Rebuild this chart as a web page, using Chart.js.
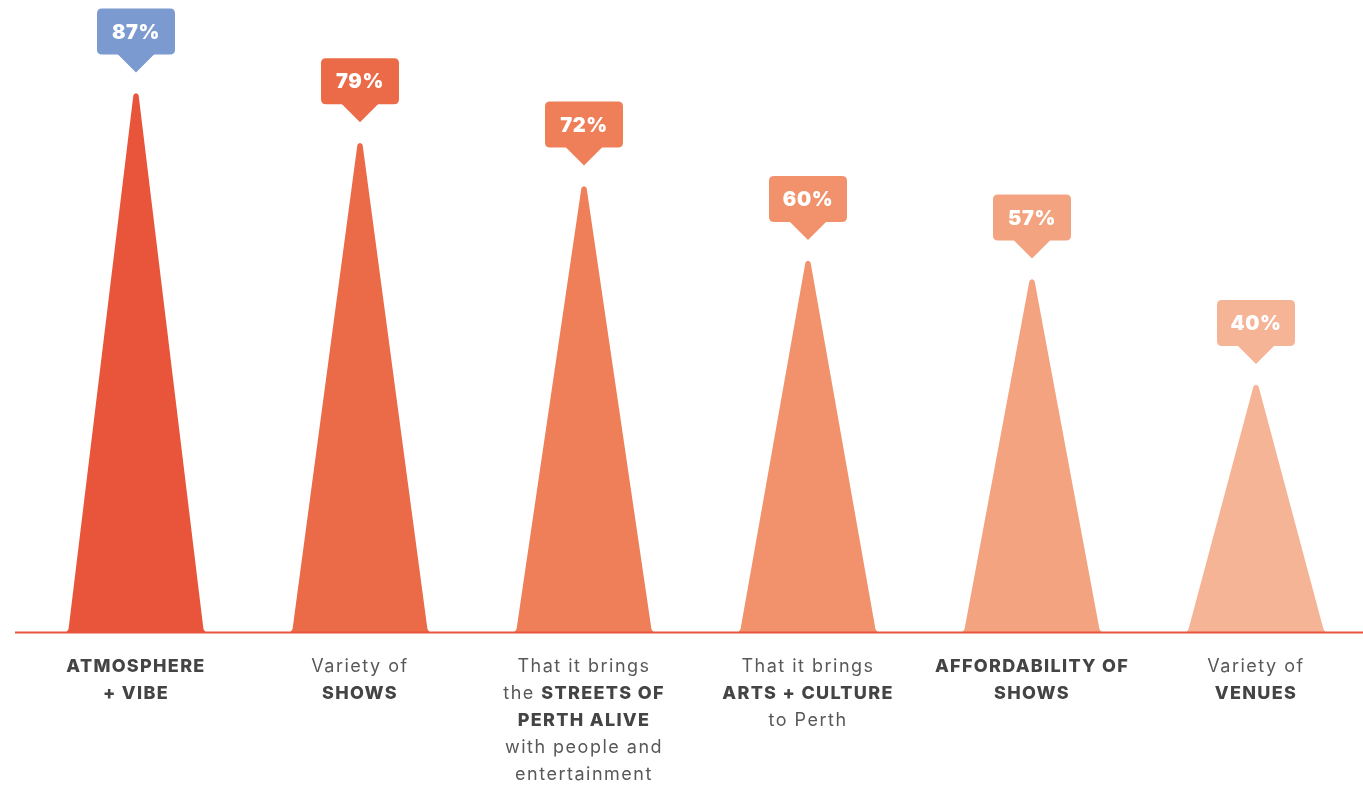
<!DOCTYPE html>
<html lang="en">
<head>
<meta charset="UTF-8" />
<title>What people loved most</title>
<script src="https://cdn.jsdelivr.net/npm/chart.js"></script>
<style>
  * { margin: 0; padding: 0; box-sizing: border-box; }
  html, body { width: 1363px; height: 787px; overflow: hidden; background: #fff; }
  .wrap { position: absolute; left: 0; top: 0; width: 1368px; height: 787px; }
</style>
</head>
<body>
<div class="wrap"><canvas id="spikes"></canvas></div>
<script>
const categories = ["Atmosphere + vibe", "Variety of shows", "Streets of Perth alive", "Arts + culture", "Affordability of shows", "Variety of venues"];
const values = [87, 79, 72, 60, 57, 40];
const spikeColors = ["#E8553A", "#EB6A47", "#EE7F59", "#F1926C", "#F3A37F", "#F6B496"];
const tagColors = ["#7B9AD0", "#EB6A47", "#EE7F59", "#F1926C", "#F3A37F", "#F6B496"];

// each label line is a list of [text, bold] pieces
const labelLines = [
  [[["ATMOSPHERE", true]], [["+ VIBE", true]]],
  [[["Variety of", false]], [["SHOWS", true]]],
  [[["That it brings", false]], [["the ", false], ["STREETS OF", true]], [["PERTH ALIVE", true]], [["with people and", false]], [["entertainment", false]]],
  [[["That it brings", false]], [["ARTS + CULTURE", true]], [["to Perth", false]]],
  [[["AFFORDABILITY OF", true]], [["SHOWS", true]]],
  [[["Variety of", false]], [["VENUES", true]]]
];

const BOLD = "800 18px Inter";
const REG = "400 18px Inter";

function setFont(ctx, bold) {
  ctx.font = bold ? BOLD : REG;
  ctx.fillStyle = bold ? "#444444" : "#585858";
  ctx.letterSpacing = bold ? "1.3px" : "1.5px";
}

function roundRect(ctx, x, y, w, h, r) {
  ctx.beginPath();
  ctx.moveTo(x + r, y);
  ctx.lineTo(x + w - r, y);
  ctx.quadraticCurveTo(x + w, y, x + w, y + r);
  ctx.lineTo(x + w, y + h - r);
  ctx.quadraticCurveTo(x + w, y + h, x + w - r, y + h);
  ctx.lineTo(x + r, y + h);
  ctx.quadraticCurveTo(x, y + h, x, y + h - r);
  ctx.lineTo(x, y + r);
  ctx.quadraticCurveTo(x, y, x + r, y);
  ctx.closePath();
}

const spikePlugin = {
  id: "spikes",
  afterDatasetsDraw(chart) {
    const ctx = chart.ctx;
    const meta = chart.getDatasetMeta(0);
    ctx.save();
    meta.data.forEach((bar, i) => {
      const { x, y, base, width } = bar.getProps(["x", "y", "base", "width"], true);
      const half = width / 2;

      // spike
      ctx.beginPath();
      ctx.moveTo(x - half, base);
      ctx.lineTo(x - half + 2, base - 3);
      ctx.lineTo(x - 2.6, y + 2.5);
      ctx.quadraticCurveTo(x, y - 1, x + 2.6, y + 2.5);
      ctx.lineTo(x + half - 2, base - 3);
      ctx.lineTo(x + half, base);
      ctx.closePath();
      ctx.fillStyle = spikeColors[i];
      ctx.fill();

      // value tag with pointer
      const tip = y - 20;
      const boxBottom = tip - 18;
      const boxH = 46, boxW = 78;
      ctx.fillStyle = tagColors[i];
      roundRect(ctx, x - boxW / 2, boxBottom - boxH, boxW, boxH, 5);
      ctx.fill();
      ctx.beginPath();
      ctx.moveTo(x - 19, boxBottom - 1);
      ctx.lineTo(x + 19, boxBottom - 1);
      ctx.lineTo(x, tip);
      ctx.closePath();
      ctx.fill();

      ctx.font = "900 20px Inter";
      ctx.letterSpacing = "0.6px";
      ctx.fillStyle = "#ffffff";
      ctx.textAlign = "left";
      ctx.textBaseline = "middle";
      const txt = values[i] + "%";
      const tw = ctx.measureText(txt).width;
      ctx.fillText(txt, x - tw / 2, boxBottom - boxH / 2 + 1);

      // category label
      labelLines[i].forEach((line, j) => {
        let total = 0;
        line.forEach(([t, b]) => { setFont(ctx, b); total += ctx.measureText(t).width; });
        let lx = x - total / 2;
        const ly = base + 35 + j * 26.8;
        line.forEach(([t, b]) => {
          setFont(ctx, b);
          ctx.fillText(t, lx, ly);
          lx += ctx.measureText(t).width;
        });
      });
    });

    // baseline
    const area = chart.chartArea;
    ctx.beginPath();
    ctx.moveTo(15, area.bottom + 0.5);
    ctx.lineTo(chart.width, area.bottom + 0.5);
    ctx.lineWidth = 2;
    ctx.strokeStyle = "#E8553A";
    ctx.stroke();
    ctx.restore();
  }
};

new Chart(document.getElementById("spikes"), {
  type: "bar",
  data: {
    labels: categories,
    datasets: [{
      data: values,
      backgroundColor: "rgba(0,0,0,0)",
      barPercentage: 0.62,
      categoryPercentage: 1
    }]
  },
  options: {
    responsive: true,
    maintainAspectRatio: false,
    animation: false,
    layout: { padding: { left: 24, right: 0, top: 12, bottom: 155 } },
    plugins: { legend: { display: false }, tooltip: { enabled: false } },
    scales: {
      x: { display: false },
      y: { display: false, min: 0, max: 100 }
    }
  },
  plugins: [spikePlugin]
});
</script>
</body>
</html>
